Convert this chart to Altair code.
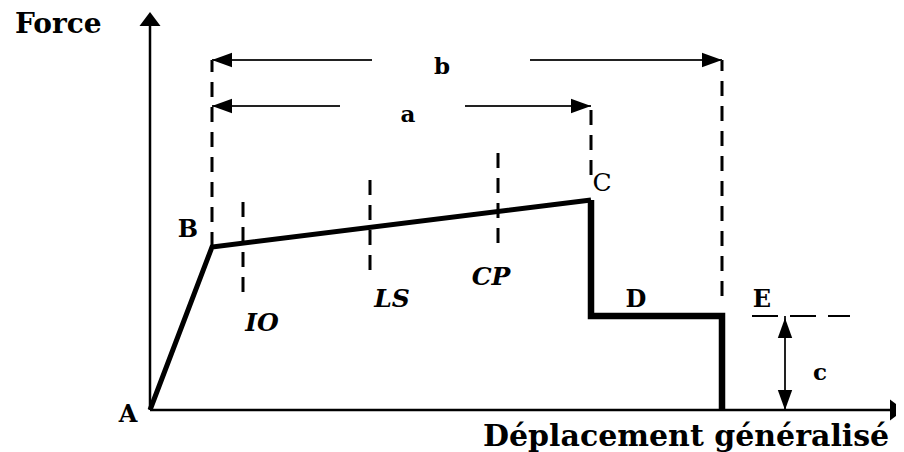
import altair as alt
import pandas as pd

# ---------------- data (diagram units: displacement, force) ----------------
# capacity curve A -> B -> C
curve_disp = [0, 62, 441]
curve_force = [0, 163, 210]
# strength loss C -> D -> E
drop_disp = [441, 441, 572, 572]
drop_force = [210, 94, 94, 0]

# point labels
pt_text = ["A", "B", "D", "E"]
pt_disp = [-22, 38, 486, 612]
pt_force = [-5, 180, 110, 110]
c_text = ["C"]
c_disp = [452]
c_force = [227]

# performance levels
lvl_text = ["IO", "LS", "CP"]
lvl_disp = [93, 220, 348]
lvl_lo = [118, 140, 167]
lvl_hi = [210, 235, 258]
lvl_lab_disp = [112, 242, 341]
lvl_lab_force = [87, 111, 133]

# vertical dashed guides (B, C, E)
guide_disp = [62, 441, 572]
guide_lo = [163, 235, 114]
guide_hi = [350, 304, 350]

# residual strength dashed line at E
res_disp = [602, 700]
res_force = [94, 94]

# dimension arrows a, b, c
dim_text = ["a", "b", "c"]
dim_lab_disp = [258, 292, 670]
dim_lab_force = [295, 343, 37]
shaft_x1 = [62, 315, 62, 380, 635]
shaft_x2 = [190, 441, 222, 572, 635]
shaft_y1 = [304, 304, 350, 350, 0]
shaft_y2 = [304, 304, 350, 350, 94]
head_x = [62, 441, 62, 572, 635, 635]
head_y = [304, 304, 350, 350, 92, 0]
head_ang = [180, 0, 180, 0, 270, 90]

# axes
axis_x1 = [0, 0]
axis_y1 = [0, 0]
axis_x2 = [0, 742]
axis_y2 = [384, 0]
axhead_x = [0, 754]
axhead_y = [398, 0]
axhead_ang = [270, 0]

x_title = "Déplacement généralisé"
y_title = "Force"

# ---------------- scales ----------------
XS = alt.Scale(domain=[-142, 746], nice=False, zero=False)
YS = alt.Scale(domain=[-42, 402], nice=False, zero=False)


def X(f="x"):
    return alt.X(f"{f}:Q", scale=XS, axis=None)


def Y(f="y"):
    return alt.Y(f"{f}:Q", scale=YS, axis=None)


FONT = "DejaVu Serif"

# axes
axes_df = pd.DataFrame({"x": axis_x1, "y": axis_y1, "x2": axis_x2, "y2": axis_y2})
axes = alt.Chart(axes_df).mark_rule(color="black", strokeWidth=2.5).encode(
    x=X(), y=Y(), x2="x2:Q", y2="y2:Q")
axhead_df = pd.DataFrame({"x": axhead_x, "y": axhead_y, "a": axhead_ang})
axheads = alt.Chart(axhead_df).mark_point(
    shape="M0,0L-1,-0.75L-1,0.75Z", filled=True, color="black", opacity=1,
    size=784, strokeWidth=0).encode(x=X(), y=Y(), angle=alt.Angle("a:Q", scale=None))

# curve
curve_df = pd.DataFrame({"x": curve_disp, "y": curve_force, "o": range(len(curve_disp))})
curve = alt.Chart(curve_df).mark_line(color="black", strokeWidth=5, strokeJoin="miter").encode(
    x=X(), y=Y(), order="o:Q")
drop_df = pd.DataFrame({"x": drop_disp, "y": drop_force, "o": range(len(drop_disp))})
drop = alt.Chart(drop_df).mark_line(color="black", strokeWidth=6.5, strokeJoin="miter").encode(
    x=X(), y=Y(), order="o:Q")

# dashed guides
guide_df = pd.DataFrame({"x": guide_disp, "y": guide_lo, "y2": guide_hi})
guides = alt.Chart(guide_df).mark_rule(color="black", strokeWidth=3, strokeDash=[15, 10]).encode(
    x=X(), y=Y(), y2="y2:Q")
lvl_df = pd.DataFrame({"x": lvl_disp, "y": lvl_lo, "y2": lvl_hi})
lvls = alt.Chart(lvl_df).mark_rule(color="black", strokeWidth=3, strokeDash=[15, 10]).encode(
    x=X(), y=Y(), y2="y2:Q")
res_df = pd.DataFrame({"x": [res_disp[0]], "x2": [res_disp[1]], "y": [res_force[0]]})
res = alt.Chart(res_df).mark_rule(color="black", strokeWidth=2, strokeDash=[26, 12]).encode(
    x=X(), x2="x2:Q", y=Y())

# dimension arrows
shaft_df = pd.DataFrame({"x": shaft_x1, "x2": shaft_x2, "y": shaft_y1, "y2": shaft_y2})
shafts = alt.Chart(shaft_df).mark_rule(color="#222222", strokeWidth=2).encode(
    x=X(), x2="x2:Q", y=Y(), y2="y2:Q")
head_df = pd.DataFrame({"x": head_x, "y": head_y, "a": head_ang})
heads = alt.Chart(head_df).mark_point(
    shape="M0,0L-1,-0.36L-1,0.36Z", filled=True, color="black", opacity=1,
    size=1600, strokeWidth=0).encode(x=X(), y=Y(), angle=alt.Angle("a:Q", scale=None))

# labels
pt_df = pd.DataFrame({"x": pt_disp, "y": pt_force, "t": pt_text})
pts = alt.Chart(pt_df).mark_text(font=FONT, fontWeight="bold", fontSize=24, color="black",
                                 baseline="middle", align="center").encode(
    x=X(), y=Y(), text="t:N")
c_df = pd.DataFrame({"x": c_disp, "y": c_force, "t": c_text})
cl = alt.Chart(c_df).mark_text(font=FONT, fontSize=25, color="black",
                               baseline="middle", align="center").encode(
    x=X(), y=Y(), text="t:N")
lvl_lab_df = pd.DataFrame({"x": lvl_lab_disp, "y": lvl_lab_force, "t": lvl_text})
lvl_labs = alt.Chart(lvl_lab_df).mark_text(font=FONT, fontWeight="bold", fontStyle="italic",
                                           fontSize=25, color="black",
                                           baseline="middle", align="center").encode(
    x=X(), y=Y(), text="t:N")
dim_df = pd.DataFrame({"x": dim_lab_disp, "y": dim_lab_force, "t": dim_text})
dims = alt.Chart(dim_df).mark_text(font=FONT, fontWeight="bold", fontSize=23, color="black",
                                   baseline="middle", align="center").encode(
    x=X(), y=Y(), text="t:N")

title_df = pd.DataFrame({"x": [-135, 333], "y": [377, -36], "t": [y_title, x_title]})
ytitle = alt.Chart(title_df.iloc[[0]]).mark_text(font=FONT, fontWeight="bold", fontSize=28,
                                                 color="black", baseline="alphabetic",
                                                 align="left").encode(x=X(), y=Y(), text="t:N")
xtitle = alt.Chart(title_df.iloc[[1]]).mark_text(font=FONT, fontWeight="bold", fontSize=30,
                                                 color="black", baseline="alphabetic",
                                                 align="left").encode(x=X(), y=Y(), text="t:N")

chart = alt.layer(
    guides, lvls, res, shafts, heads, axes, axheads, curve, drop,
    pts, cl, lvl_labs, dims, ytitle, xtitle
).properties(
    width=888, height=444, padding=0, autosize=alt.AutoSizeParams(type="none"),
    background="white"
).configure_view(stroke=None)

chart.save("out.html", embed_options={"renderer": "svg", "actions": False})
